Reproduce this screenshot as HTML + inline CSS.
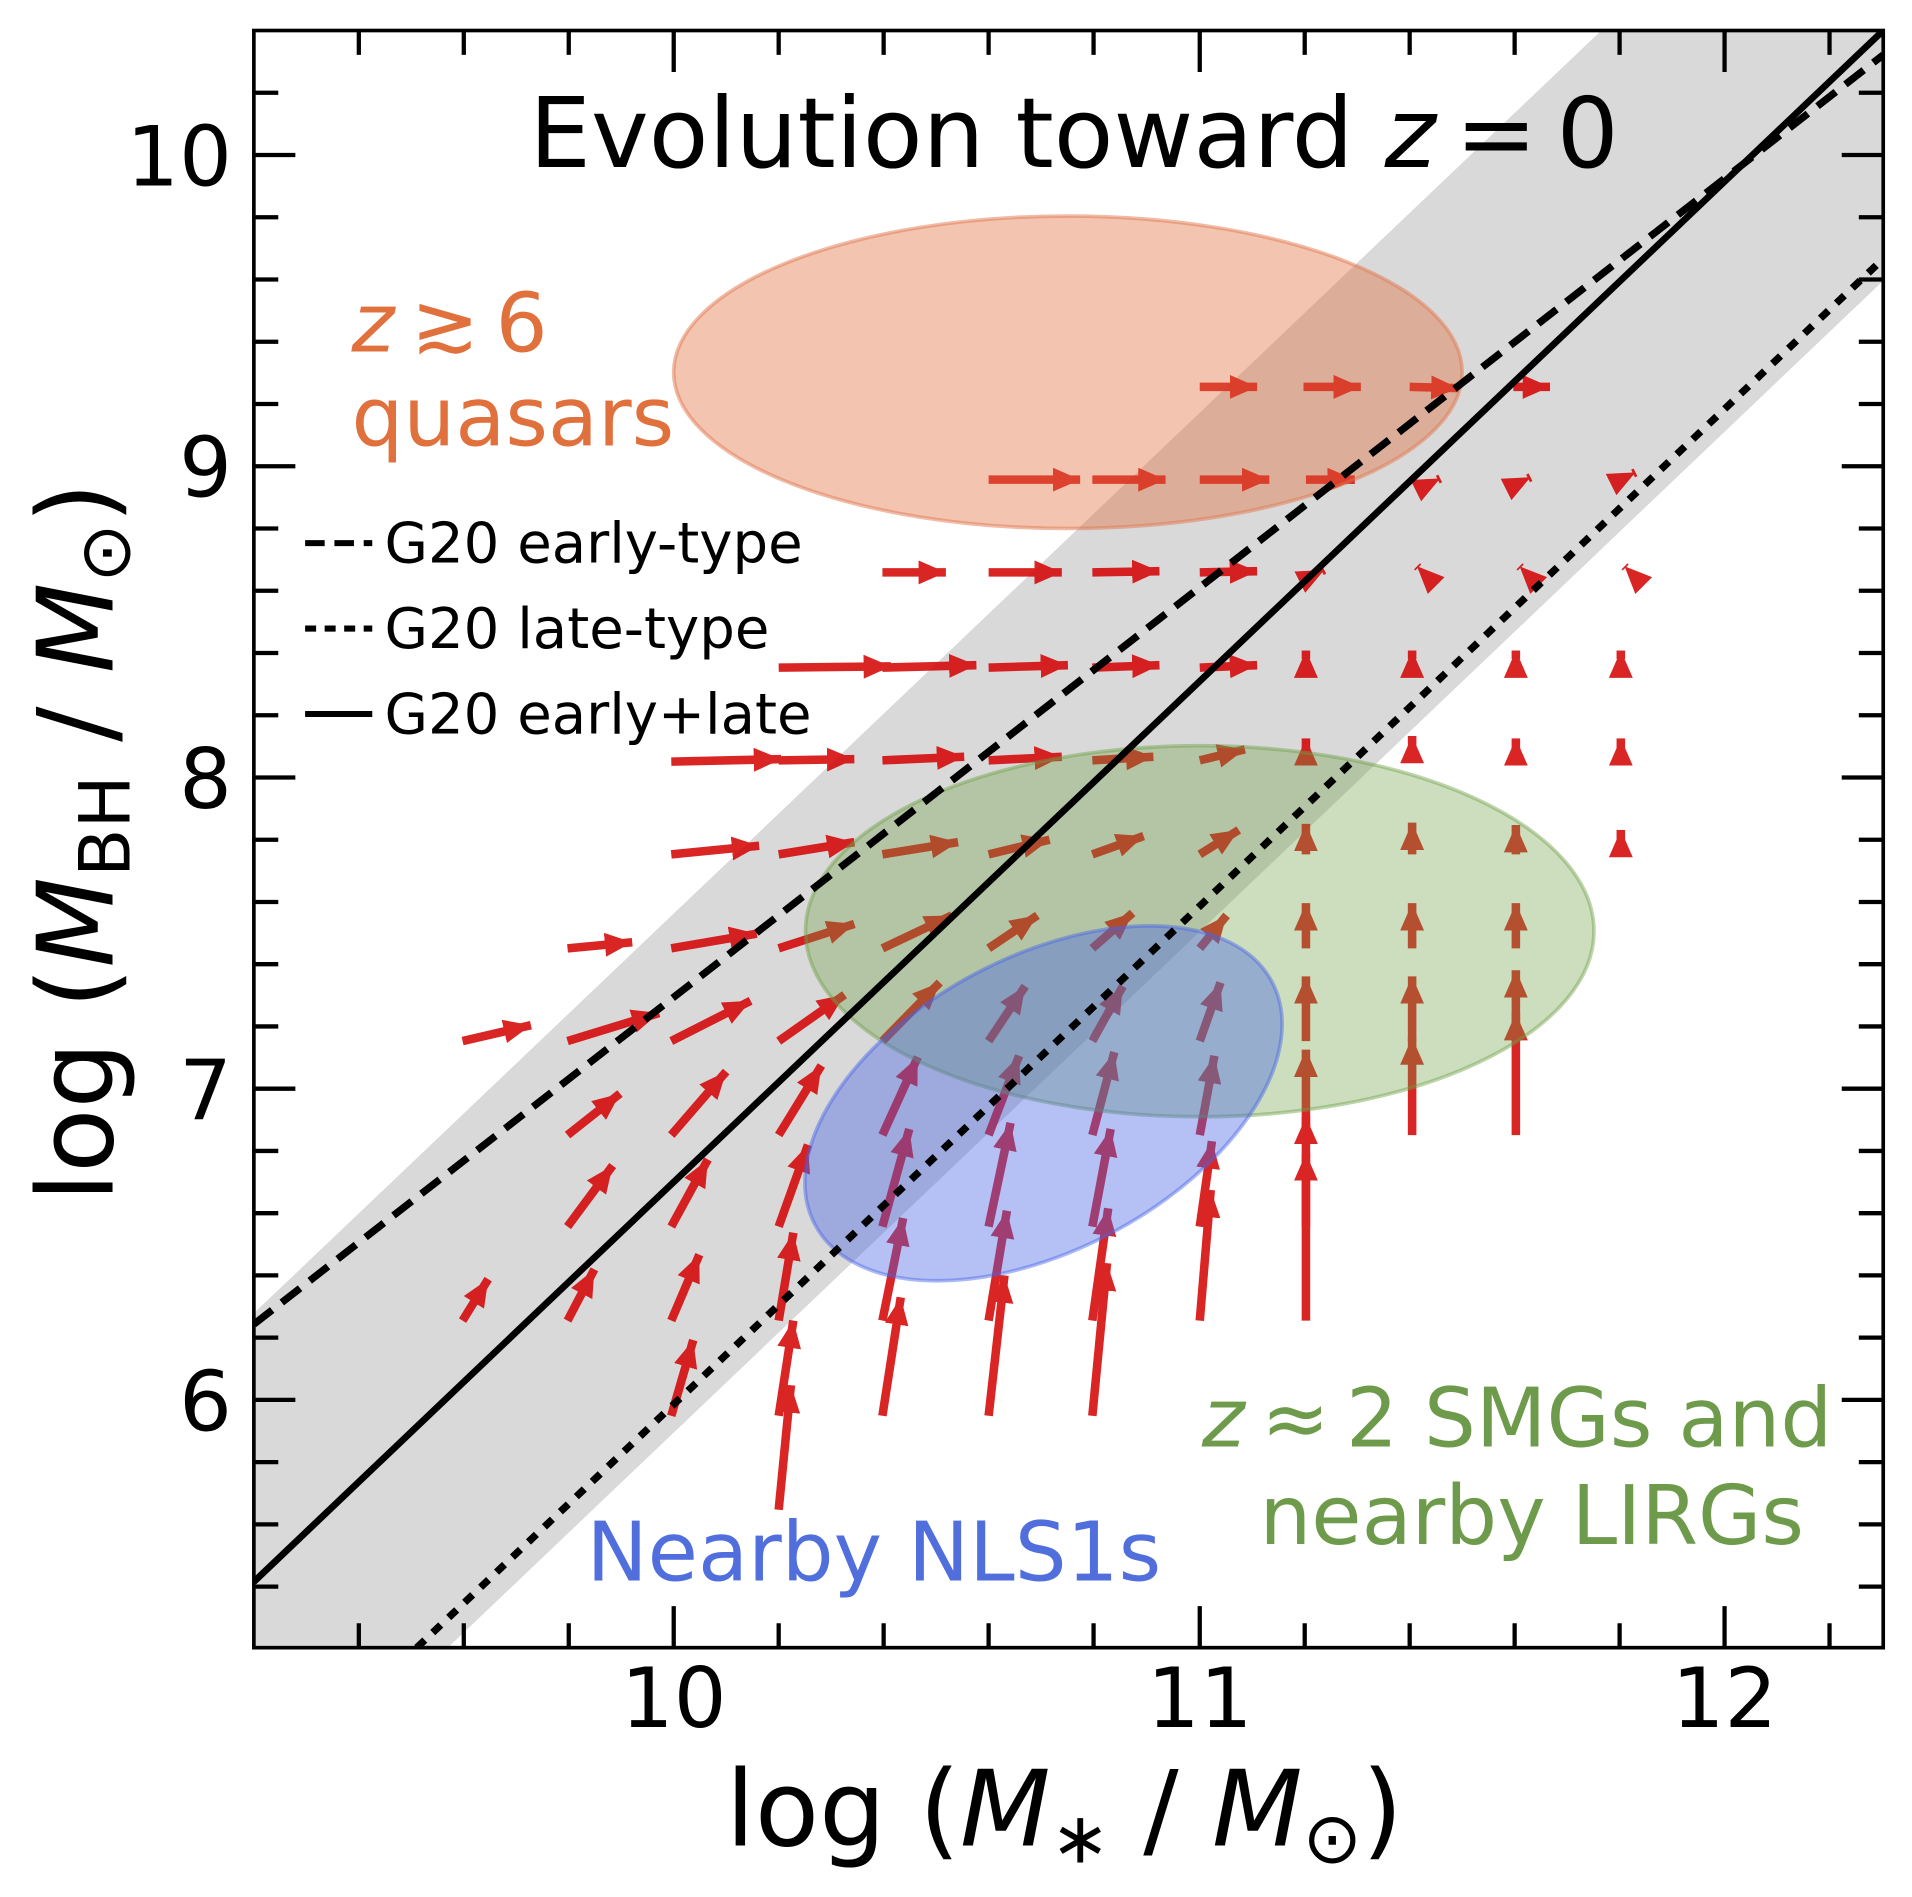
<!DOCTYPE html>
<html><head><meta charset="utf-8"><style>
html,body{margin:0;padding:0;background:#fff;}
svg{display:block;font-family:"DejaVu Sans","Liberation Sans",sans-serif;}
</style></head><body>
<svg width="1912" height="1897" viewBox="0 0 1912 1897" xmlns="http://www.w3.org/2000/svg">
<defs>
<marker id="ah" viewBox="0 0 3.2 2.8" refX="3.2" refY="1.4" markerWidth="3.2" markerHeight="2.8" orient="auto" markerUnits="strokeWidth">
<path d="M0,0 L3.2,1.4 L0,2.8 z" fill="#d40000"/>
</marker>
<clipPath id="cp"><rect x="208" y="25" width="1335" height="1325"/></clipPath>
</defs>
<g transform="scale(1.2205)">
<g clip-path="url(#cp)">
<polygon points="208,1076 1312,25 1543,25 1543,230 367,1350 208,1350" fill="#d9d9d9"/>
<g opacity="0.85" stroke="#d40000" stroke-width="7" marker-end="url(#ah)" fill="none">
<line x1="379" y1="853" x2="435" y2="840"/>
<line x1="379" y1="1082" x2="400" y2="1048"/>
<line x1="465" y1="777" x2="518" y2="772"/>
<line x1="465" y1="853" x2="540" y2="830"/>
<line x1="465" y1="930" x2="508" y2="896"/>
<line x1="465" y1="1005" x2="502" y2="955"/>
<line x1="465" y1="1082" x2="487" y2="1040"/>
<line x1="550" y1="624" x2="640" y2="622"/>
<line x1="550" y1="700" x2="622" y2="693"/>
<line x1="550" y1="777" x2="620" y2="765"/>
<line x1="550" y1="853" x2="615" y2="820"/>
<line x1="550" y1="930" x2="595" y2="878"/>
<line x1="550" y1="1005" x2="580" y2="950"/>
<line x1="550" y1="1082" x2="573" y2="1028"/>
<line x1="550" y1="1160" x2="568" y2="1098"/>
<line x1="638" y1="547" x2="730" y2="546"/>
<line x1="638" y1="623" x2="700" y2="622"/>
<line x1="638" y1="700" x2="700" y2="690"/>
<line x1="638" y1="777" x2="700" y2="757"/>
<line x1="638" y1="853" x2="692" y2="815"/>
<line x1="638" y1="930" x2="673" y2="873"/>
<line x1="638" y1="1005" x2="662" y2="938"/>
<line x1="638" y1="1082" x2="650" y2="1010"/>
<line x1="638" y1="1160" x2="650" y2="1082"/>
<line x1="638" y1="1237" x2="648" y2="1135"/>
<line x1="723" y1="469" x2="775" y2="469"/>
<line x1="723" y1="547" x2="800" y2="545"/>
<line x1="723" y1="623" x2="790" y2="620"/>
<line x1="723" y1="700" x2="785" y2="690"/>
<line x1="723" y1="777" x2="780" y2="750"/>
<line x1="723" y1="853" x2="770" y2="805"/>
<line x1="723" y1="930" x2="752" y2="866"/>
<line x1="723" y1="1005" x2="745" y2="925"/>
<line x1="723" y1="1082" x2="740" y2="998"/>
<line x1="723" y1="1160" x2="738" y2="1063"/>
<line x1="810" y1="393" x2="885" y2="393"/>
<line x1="810" y1="469" x2="870" y2="469"/>
<line x1="810" y1="547" x2="875" y2="545"/>
<line x1="810" y1="623" x2="870" y2="620"/>
<line x1="810" y1="700" x2="860" y2="688"/>
<line x1="810" y1="777" x2="850" y2="750"/>
<line x1="810" y1="853" x2="840" y2="808"/>
<line x1="810" y1="930" x2="835" y2="865"/>
<line x1="810" y1="1005" x2="828" y2="920"/>
<line x1="810" y1="1082" x2="825" y2="992"/>
<line x1="810" y1="1160" x2="823" y2="1045"/>
<line x1="895" y1="393" x2="955" y2="393"/>
<line x1="895" y1="469" x2="950" y2="468"/>
<line x1="895" y1="547" x2="950" y2="545"/>
<line x1="895" y1="623" x2="945" y2="620"/>
<line x1="895" y1="700" x2="937" y2="685"/>
<line x1="895" y1="777" x2="928" y2="748"/>
<line x1="895" y1="853" x2="920" y2="808"/>
<line x1="895" y1="930" x2="913" y2="862"/>
<line x1="895" y1="1005" x2="910" y2="925"/>
<line x1="895" y1="1082" x2="908" y2="990"/>
<line x1="895" y1="1160" x2="907" y2="1035"/>
<line x1="983" y1="317" x2="1030" y2="317"/>
<line x1="983" y1="393" x2="1040" y2="393"/>
<line x1="983" y1="469" x2="1030" y2="468"/>
<line x1="983" y1="547" x2="1030" y2="545"/>
<line x1="983" y1="623" x2="1020" y2="614"/>
<line x1="983" y1="700" x2="1015" y2="680"/>
<line x1="983" y1="777" x2="1005" y2="750"/>
<line x1="983" y1="853" x2="1000" y2="805"/>
<line x1="983" y1="930" x2="995" y2="865"/>
<line x1="983" y1="1005" x2="993" y2="935"/>
<line x1="983" y1="1082" x2="992" y2="975"/>
<line x1="1068" y1="317" x2="1115" y2="317"/>
<line x1="1070" y1="393" x2="1110" y2="393"/>
<line x1="1083" y1="468" x2="1085" y2="467"/>
<line x1="1070" y1="540" x2="1070" y2="533"/>
<line x1="1070" y1="625" x2="1070" y2="605"/>
<line x1="1070" y1="700" x2="1070" y2="675"/>
<line x1="1070" y1="777" x2="1070" y2="740"/>
<line x1="1070" y1="853" x2="1070" y2="800"/>
<line x1="1070" y1="930" x2="1070" y2="860"/>
<line x1="1070" y1="1005" x2="1070" y2="915"/>
<line x1="1070" y1="1082" x2="1070" y2="945"/>
<line x1="1155" y1="317" x2="1195" y2="318"/>
<line x1="1178" y1="393" x2="1180" y2="392"/>
<line x1="1162" y1="465" x2="1161" y2="464"/>
<line x1="1157" y1="540" x2="1157" y2="533"/>
<line x1="1157" y1="625" x2="1157" y2="603"/>
<line x1="1157" y1="700" x2="1157" y2="674"/>
<line x1="1157" y1="777" x2="1157" y2="740"/>
<line x1="1157" y1="853" x2="1157" y2="800"/>
<line x1="1157" y1="930" x2="1157" y2="850"/>
<line x1="1240" y1="317" x2="1270" y2="317"/>
<line x1="1252" y1="392" x2="1254" y2="391"/>
<line x1="1246" y1="465" x2="1245" y2="464"/>
<line x1="1242" y1="540" x2="1242" y2="533"/>
<line x1="1242" y1="620" x2="1242" y2="605"/>
<line x1="1242" y1="700" x2="1242" y2="676"/>
<line x1="1242" y1="777" x2="1242" y2="740"/>
<line x1="1242" y1="853" x2="1242" y2="795"/>
<line x1="1242" y1="930" x2="1242" y2="830"/>
<line x1="1338" y1="388" x2="1340" y2="387"/>
<line x1="1332" y1="465" x2="1331" y2="464"/>
<line x1="1328" y1="540" x2="1328" y2="533"/>
<line x1="1328" y1="620" x2="1328" y2="605"/>
<line x1="1328" y1="700" x2="1328" y2="680"/>
</g>
<ellipse cx="875" cy="305" rx="323" ry="128" fill="rgb(225,110,60)" fill-opacity="0.4" stroke="rgb(225,120,80)" stroke-opacity="0.5" stroke-width="3"/>
<ellipse cx="983" cy="763" rx="323" ry="152" fill="rgb(110,160,70)" fill-opacity="0.35" stroke="rgb(110,160,70)" stroke-opacity="0.45" stroke-width="3"/>
<ellipse cx="0" cy="0" rx="212" ry="120" transform="translate(855,904) rotate(-28)" fill="rgb(70,100,230)" fill-opacity="0.4" stroke="rgb(70,100,230)" stroke-opacity="0.45" stroke-width="3"/>
<line x1="208" y1="1296" x2="1543" y2="25" stroke="#000" stroke-width="5.5"/>
<line x1="208" y1="1085" x2="1543" y2="45" stroke="#000" stroke-width="6" stroke-dasharray="19,10"/>
<line x1="341.5" y1="1350" x2="1543" y2="212" stroke="#000" stroke-width="6" stroke-dasharray="9,9"/>
</g>
<rect x="208" y="25" width="1335" height="1325" fill="none" stroke="#000" stroke-width="3"/>
<g stroke="#000" stroke-width="3.5">
<path d="M294,1350v-20M294,25v20M380,1350v-20M380,25v20M466,1350v-20M466,25v20M638,1350v-20M638,25v20M724,1350v-20M724,25v20M810,1350v-20M810,25v20M896,1350v-20M896,25v20M1069,1350v-20M1069,25v20M1155,1350v-20M1155,25v20M1241,1350v-20M1241,25v20M1327,1350v-20M1327,25v20M1499,1350v-20M1499,25v20"/>
<path d="M552,1350v-34M552,25v34M983,1350v-34M983,25v34M1413,1350v-34M1413,25v34"/>
<path d="M208,76h20M1543,76h-20M208,178h20M1543,178h-20M208,229h20M1543,229h-20M208,280h20M1543,280h-20M208,331h20M1543,331h-20M208,433h20M1543,433h-20M208,484h20M1543,484h-20M208,535h20M1543,535h-20M208,586h20M1543,586h-20M208,688h20M1543,688h-20M208,739h20M1543,739h-20M208,790h20M1543,790h-20M208,841h20M1543,841h-20M208,943h20M1543,943h-20M208,994h20M1543,994h-20M208,1045h20M1543,1045h-20M208,1096h20M1543,1096h-20M208,1198h20M1543,1198h-20M208,1249h20M1543,1249h-20M208,1300h20M1543,1300h-20"/>
<path d="M208,127h34M1543,127h-34M208,382h34M1543,382h-34M208,637h34M1543,637h-34M208,892h34M1543,892h-34M208,1147h34M1543,1147h-34"/>
</g>
<g font-size="68" fill="#000">
<text x="190" y="152" text-anchor="end">10</text>
<text x="190" y="407" text-anchor="end">9</text>
<text x="190" y="662" text-anchor="end">8</text>
<text x="190" y="917" text-anchor="end">7</text>
<text x="190" y="1172" text-anchor="end">6</text>
<text x="552" y="1415" text-anchor="middle">10</text>
<text x="983" y="1415" text-anchor="middle">11</text>
<text x="1413" y="1415" text-anchor="middle">12</text>
</g>
<text x="872" y="1512" text-anchor="middle" font-size="86">log (<tspan font-style="italic">M</tspan><tspan font-size="58" dy="14">∗</tspan><tspan dy="-14"> / </tspan><tspan font-style="italic">M</tspan><tspan font-size="58" dy="14">⊙</tspan><tspan dy="-14">)</tspan></text>
<text transform="translate(92,690) rotate(-90)" text-anchor="middle" font-size="86">log (<tspan font-style="italic">M</tspan><tspan font-size="58" dy="14">BH</tspan><tspan dy="-14"> / </tspan><tspan font-style="italic">M</tspan><tspan font-size="58" dy="14">⊙</tspan><tspan dy="-14">)</tspan></text>
<text x="880" y="137" text-anchor="middle" font-size="80">Evolution toward <tspan font-style="italic">z</tspan>&#8201;=&#8201;0</text>
<g font-size="67" fill="rgb(224,112,60)">
<text x="288" y="288"><tspan font-style="italic">z</tspan>&#8201;≳&#8201;6</text>
<text x="288" y="365">quasars</text>
</g>
<g font-size="67" fill="rgb(110,155,75)" text-anchor="middle">
<text x="1243" y="1185"><tspan font-style="italic">z</tspan>&#8201;≈&#8201;2 SMGs and</text>
<text x="1255" y="1265">nearby LIRGs</text>
</g>
<text x="716" y="1295" text-anchor="middle" font-size="67" fill="rgb(80,110,220)">Nearby NLS1s</text>
<g stroke="#000" stroke-width="5">
<line x1="250" y1="445" x2="305" y2="445" stroke-dasharray="16,8"/>
<line x1="250" y1="515" x2="305" y2="515" stroke-dasharray="9,7"/>
<line x1="250" y1="585" x2="305" y2="585"/>
</g>
<g font-size="46" fill="#000">
<text x="315" y="461">G20 early-type</text>
<text x="315" y="531">G20 late-type</text>
<text x="315" y="601">G20 early+late</text>
</g>
</g>
</svg>
</body></html>
